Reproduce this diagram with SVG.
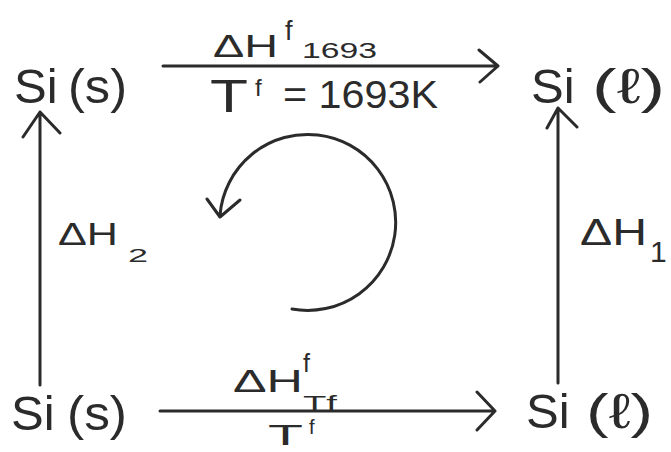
<svg xmlns="http://www.w3.org/2000/svg" width="671" height="452" viewBox="0 0 671 452">
<style>
.ln{stroke:#2b2b2b;stroke-width:3;fill:none;stroke-linecap:round;stroke-linejoin:round}
.t{font-family:"Liberation Sans","DejaVu Sans",sans-serif;fill:#2b2b2b}
.big{font-size:49px}
</style>
<rect width="671" height="452" fill="#ffffff"/>
<g id="connectors">
<path class="ln" d="M163 66 L498 66 M479 50 L498 66 L480 82"/>
<path class="ln" d="M160 411 L495 411 M477 392 L495 411 L477 430"/>
<path class="ln" d="M40 385 L40 112 M23 137 L40 112 L60 133"/>
<path class="ln" d="M558 383 L558 108 M547 128 L558 108 L577 127"/>
<path class="ln" d="M292 309 A88 88 0 1 0 220 215 M207 199 L220 217 L240 200"/>
</g>
<g id="node-si-s-top"><text class="t big" x="14" y="103">Si</text><text class="t big" x="68" y="103" textLength="59" lengthAdjust="spacingAndGlyphs">(s)</text></g>
<g id="node-si-l-top"><text class="t big" x="531" y="103">Si</text><text class="t big" x="592" y="103" textLength="73" lengthAdjust="spacingAndGlyphs">(ℓ)</text></g>
<g id="node-si-s-bottom"><text class="t big" x="11" y="430">Si</text><text class="t big" x="67" y="430" textLength="60" lengthAdjust="spacingAndGlyphs">(s)</text></g>
<g id="node-si-l-bottom"><text class="t big" x="526" y="428">Si</text><text class="t big" x="586" y="428" textLength="67" lengthAdjust="spacingAndGlyphs">(ℓ)</text></g>
<g id="label-top">
<text class="t" x="213" y="57" font-size="31" textLength="65" lengthAdjust="spacingAndGlyphs">ΔH</text>
<text class="t" x="285" y="40" font-size="27">f</text>
<text class="t" x="302" y="58" font-size="22" textLength="75" lengthAdjust="spacingAndGlyphs">1693</text>
<text class="t" x="210" y="112" font-size="47" textLength="38" lengthAdjust="spacingAndGlyphs">T</text>
<text class="t" x="255" y="96" font-size="24">f</text>
<text class="t" x="283" y="108" font-size="39" textLength="155" lengthAdjust="spacingAndGlyphs">= 1693K</text>
</g>
<g id="label-bottom">
<text class="t" x="233" y="392" font-size="31" textLength="70" lengthAdjust="spacingAndGlyphs">ΔH</text>
<text class="t" x="303" y="372" font-size="25">f</text>
<text class="t" x="303" y="410" font-size="20" textLength="34" lengthAdjust="spacingAndGlyphs">Tf</text>
<text class="t" x="268" y="445" font-size="30" textLength="35" lengthAdjust="spacingAndGlyphs">T</text>
<text class="t" x="309" y="434" font-size="20">f</text>
</g>
<g id="label-left">
<text class="t" x="58" y="245" font-size="32" textLength="60" lengthAdjust="spacingAndGlyphs">ΔH</text>
<text class="t" x="128" y="262" font-size="18" textLength="20" lengthAdjust="spacingAndGlyphs">2</text>
</g>
<g id="label-right">
<text class="t" x="580" y="245" font-size="36" textLength="67" lengthAdjust="spacingAndGlyphs">ΔH</text>
<text class="t" x="650" y="262" font-size="30">1</text>
</g>
</svg>
